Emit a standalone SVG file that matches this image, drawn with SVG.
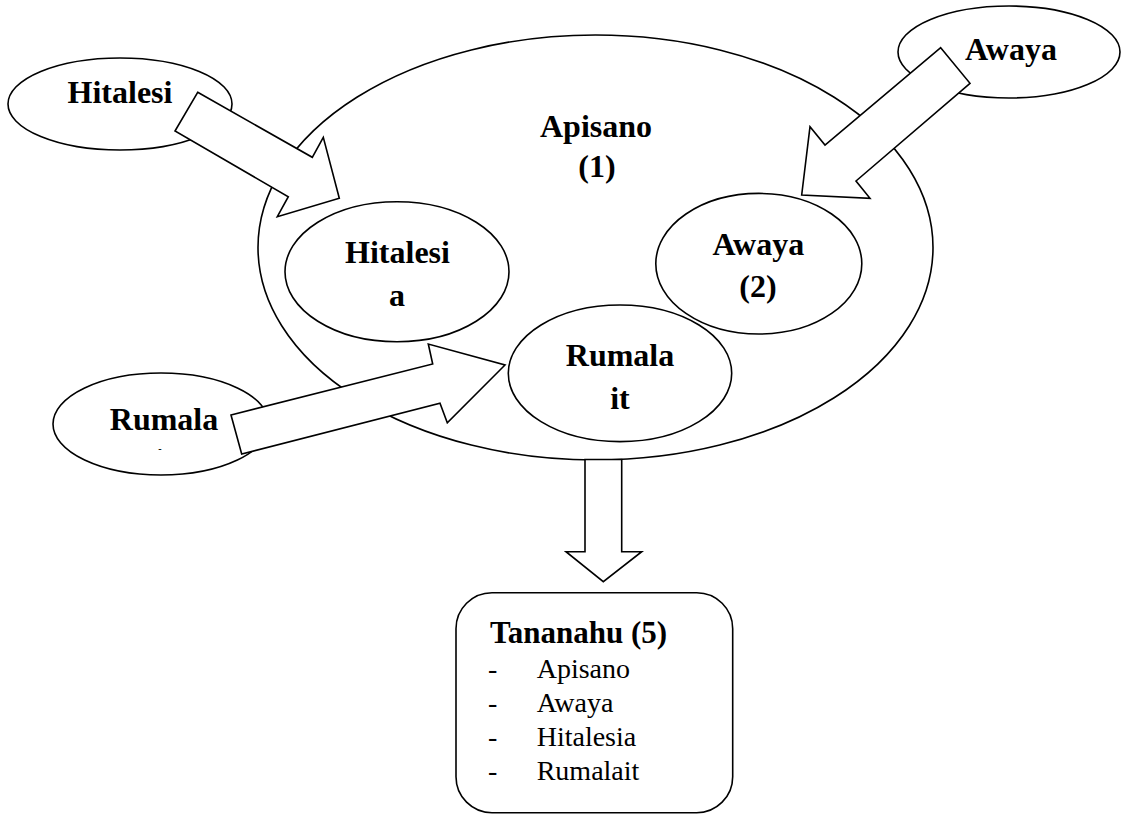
<svg xmlns="http://www.w3.org/2000/svg" width="1121" height="816" viewBox="0 0 1121 816">
<style>
.shape{fill:#fff;stroke:#000;stroke-width:1.6}
.arrow{fill:#fff;stroke:#000;stroke-width:1.6;stroke-linejoin:miter}
text{font-family:'Liberation Serif','Times New Roman',serif;fill:#000}
.b{font-weight:bold;font-size:32px;text-anchor:middle}
.r{font-size:28px}
</style>
<rect width="1121" height="816" fill="#fff"/>
<g id="apisano">
<ellipse class="shape" cx="595.5" cy="247.5" rx="337.5" ry="212.5"/>
<text class="b" x="596" y="137">Apisano</text>
<text class="b" x="597" y="177">(1)</text>
</g>
<g id="hitalesia-inner">
<ellipse class="shape" cx="397" cy="271.7" rx="112" ry="70"/>
<text class="b" x="397.5" y="262.5">Hitalesi</text>
<text class="b" x="397" y="306">a</text>
</g>
<g id="awaya-inner">
<ellipse class="shape" cx="758.8" cy="263.7" rx="103" ry="70.3"/>
<text class="b" x="758.3" y="255">Awaya</text>
<text class="b" x="758" y="297">(2)</text>
</g>
<g id="rumalait-inner">
<ellipse class="shape" cx="620" cy="373.3" rx="111.7" ry="68.3"/>
<text class="b" x="620" y="366">Rumala</text>
<text class="b" x="620" y="408.5">it</text>
</g>
<g id="hitalesi-outer">
<ellipse class="shape" cx="120" cy="104" rx="112" ry="46"/>
<text class="b" x="120" y="103">Hitalesi</text>
</g>
<g id="awaya-outer">
<ellipse class="shape" cx="1009" cy="52" rx="111" ry="46"/>
<text class="b" x="1011" y="60">Awaya</text>
</g>
<g id="rumala-outer">
<ellipse class="shape" cx="161" cy="424" rx="108" ry="51"/>
<text class="b" x="164" y="430">Rumala</text>
<text class="b" x="160" y="452" style="font-size:10px">-</text>
</g>
<g id="connectors">
<polygon class="arrow" points="197.7,92.3 312.3,157.3 323.3,137.3 339.3,198.3 277.3,216.7 288.3,196.7 175,131"/>
<polygon class="arrow" points="940.7,47.7 970,83.3 856,181 870,198.3 801.7,195 810,126.7 825,145"/>
<polygon class="arrow" points="231,415 432.7,364 428.3,344 505,365 447.3,422.7 440,403.3 241.7,454"/>
<polygon class="arrow" points="585,459.5 621.7,459.5 621.7,551.7 641.7,551.7 603.3,581.7 566,551.7 585,551.7"/>
</g>
<g id="tananahu">
<rect class="shape" x="456" y="592.7" width="276.7" height="220" rx="36" ry="36"/>
<text class="b" x="490" y="643" style="text-anchor:start;font-size:31px">Tananahu (5)</text>
<text class="r" x="488" y="678.3">-</text>
<text class="r" x="536.7" y="678.3">Apisano</text>
<text class="r" x="488" y="712">-</text>
<text class="r" x="536.7" y="712">Awaya</text>
<text class="r" x="488" y="746">-</text>
<text class="r" x="536.7" y="746">Hitalesia</text>
<text class="r" x="488" y="780">-</text>
<text class="r" x="536.7" y="780">Rumalait</text>
</g>
</svg>
